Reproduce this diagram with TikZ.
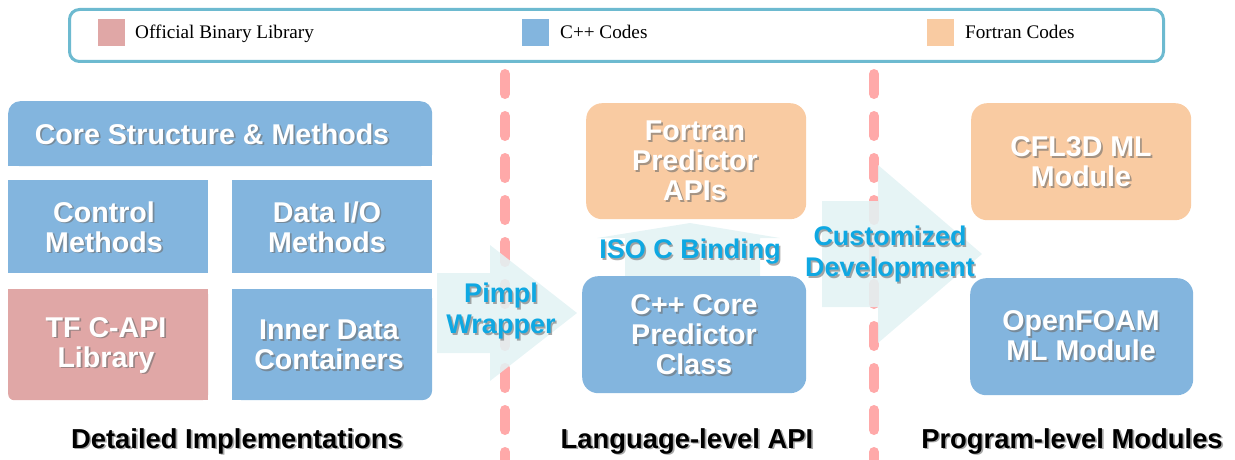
\documentclass[tikz,border=0pt]{standalone}
\usepackage{fontspec}
\setmainfont{Liberation Serif}
\newfontfamily\hv{Liberation Sans}
\definecolor{cblue}{HTML}{83B5DE}
\definecolor{cpink}{HTML}{E0A7A6}
\definecolor{cpeach}{HTML}{F9CBA2}
\definecolor{legc}{HTML}{6DBAD0}
\definecolor{dashc}{HTML}{FFA9A9}
\definecolor{arrc}{HTML}{E3F2F4}
\definecolor{cyantxt}{HTML}{0FA8E2}
\definecolor{shadowc}{HTML}{6E6E6E}
\newcommand\shtext[4]{%
  \node[#3, text=shadowc, opacity=0.6, xshift=1.7pt, yshift=-1.7pt] at #2 {#4};
  \node[#3] (#1) at #2 {#4};}
\begin{document}
\begin{tikzpicture}[x=1pt,y=-1pt,
  box/.style={draw=none, inner sep=0pt, anchor=north west},
  wtxt/.style={text=white, font=\hv\bfseries\fontsize{28.6}{30}\selectfont, align=center, inner sep=0pt},
  ctxt/.style={text=cyantxt, font=\hv\bfseries\fontsize{27}{31}\selectfont, align=center, inner sep=0pt},
  btxt/.style={text=black, font=\hv\bfseries\fontsize{27.4}{30}\selectfont, inner sep=0pt, anchor=base},
  legtxt/.style={font=\fontsize{19.2}{22}\selectfont, inner sep=0pt, anchor=base west},
  swatch/.style={inner sep=0pt, minimum width=27pt, minimum height=27pt, anchor=north west},
  dashln/.style={dashc, line width=10pt, line cap=round, dash pattern=on 20pt off 22pt},
  blockarrow/.style={fill=arrc, opacity=0.88},
]
\useasboundingbox (0,0) rectangle (1235,460);

% legend
\node[box, draw=legc, line width=3pt, rounded corners=10pt, minimum width=1094pt, minimum height=52pt] (legend) at (68,8) {};
\node[swatch, fill=cpink] (sw1) at (98,19) {};
\node[legtxt] (lg1) at (135,39) {Official Binary Library};
\node[swatch, fill=cblue] (sw2) at (522,19) {};
\node[legtxt] (lg2) at (560,39) {C++ Codes};
\node[swatch, fill=cpeach] (sw3) at (927,19) {};
\node[legtxt] (lg3) at (965,39) {Fortran Codes};

% dashed separators
\coordinate (d1a) at (505,74);
\coordinate (d1b) at (505,480);
\coordinate (d2a) at (874,74);
\coordinate (d2b) at (874,480);
\draw[dashln] (d1a) -- (d1b);
\draw[dashln] (d2a) -- (d2b);

% block arrows
\fill[blockarrow] (437,273) -- (490,273) -- (490,245) -- (577,313) -- (490,381) -- (490,353) -- (437,353) -- cycle;
\fill[blockarrow] (625,285) -- (625,238) -- (597,238) -- (690,223) -- (780,238) -- (760,238) -- (760,285) -- cycle;
\fill[blockarrow] (822,201) -- (878,201) -- (878,165) -- (982,254) -- (878,343) -- (878,307) -- (822,307) -- cycle;

% left group
\node[box, fill=cblue, rounded corners=12pt, minimum width=424pt, minimum height=65pt] (core) at (8,101) {};
\fill[cblue] (core.west) rectangle (core.south east);
\node[box, fill=cblue, minimum width=200pt, minimum height=93pt] (ctrl) at (8,180) {};
\node[box, fill=cblue, minimum width=200pt, minimum height=93pt] (dataio) at (232,180) {};
\node[box, fill=cpink, rounded corners=6pt, minimum width=200pt, minimum height=111pt] (tf) at (8,289) {};
\fill[cpink] (tf.north west) rectangle (tf.east);
\fill[cpink] (tf.north) rectangle (tf.south east);
\node[box, fill=cblue, rounded corners=10pt, minimum width=200pt, minimum height=111pt] (inner) at (232,289) {};
\fill[cblue] (inner.north west) rectangle (inner.east);
\fill[cblue] (inner.north west) rectangle (inner.south);

% middle group
\node[box, fill=cpeach, rounded corners=16pt, minimum width=220pt, minimum height=116pt] (fort) at (586,103) {};
\node[box, fill=cblue, rounded corners=16pt, minimum width=224pt, minimum height=117pt] (cpp) at (582,276) {};

% right group
\node[box, fill=cpeach, rounded corners=16pt, minimum width=220pt, minimum height=117pt] (cfl) at (971,103) {};
\node[box, fill=cblue, rounded corners=16pt, minimum width=223pt, minimum height=117pt] (ofoam) at (970,278) {};

% box texts
\shtext{coret}{(212,134)}{wtxt}{Core Structure \& Methods}
\shtext{ctrlt}{(104,227)}{wtxt}{Control\\Methods}
\shtext{dataiot}{(327,227)}{wtxt}{Data I/O\\Methods}
\shtext{tft}{(106,345)}{wtxt}{TF C-API\\Library}
\shtext{innert}{(329,345)}{wtxt}{Inner Data\\Containers}
\shtext{fortt}{(695,161)}{wtxt}{Fortran\\Predictor\\APIs}
\shtext{cppt}{(694,335)}{wtxt}{C++ Core\\Predictor\\Class}
\shtext{cflt}{(1081,162)}{wtxt}{CFL3D ML\\Module}
\shtext{ofoamt}{(1081,336)}{wtxt}{OpenFOAM\\ML Module}

% arrow labels
\shtext{pimpl}{(501,311)}{ctxt}{Pimpl\\Wrapper}
\shtext{iso}{(690,252)}{ctxt}{ISO C Binding}
\shtext{custom}{(890,254)}{ctxt}{Customized\\Development}

% bottom labels
\shtext{lab1}{(237,448)}{btxt}{Detailed Implementations}
\shtext{lab2}{(687,448)}{btxt}{Language-level API}
\shtext{lab3}{(1072,448)}{btxt}{Program-level Modules}
\end{tikzpicture}
\end{document}
